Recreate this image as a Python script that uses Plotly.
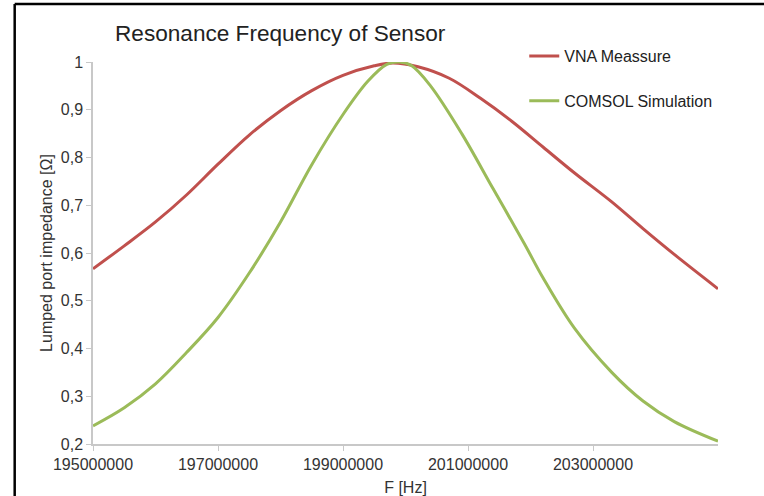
import plotly.graph_objects as go

# ---- data ----
vna_freq_mhz = [195.0, 195.5, 196.0, 196.5, 197.0, 197.5, 198.0, 198.5, 199.0, 199.5,
                199.8, 200.2, 200.7, 201.2, 201.7, 202.2, 202.7, 203.3, 203.8, 204.3, 205.0]
vna_values = [0.567, 0.615, 0.665, 0.722, 0.786, 0.847, 0.898, 0.940, 0.972, 0.992,
              0.998, 0.990, 0.966, 0.924, 0.876, 0.822, 0.768, 0.707, 0.651, 0.597, 0.525]

comsol_freq_mhz = [195.0, 195.5, 196.0, 196.5, 197.0, 197.5, 198.0, 198.5, 199.0, 199.4,
                   199.7, 199.9, 200.1, 200.4, 200.9, 201.4, 201.9, 202.2, 202.7, 203.3,
                   203.8, 204.3, 205.0]
comsol_values = [0.238, 0.276, 0.326, 0.392, 0.465, 0.558, 0.665, 0.785, 0.890, 0.960,
                 0.995, 1.000, 0.992, 0.950, 0.850, 0.735, 0.620, 0.548, 0.443, 0.350,
                 0.290, 0.247, 0.206]

x_tick_values = [195000000, 197000000, 199000000, 201000000, 203000000]
x_tick_labels = ["195000000", "197000000", "199000000", "201000000", "203000000"]
y_tick_values = [0.2, 0.3, 0.4, 0.5, 0.6, 0.7, 0.8, 0.9, 1.0]
y_tick_labels = ["0,2", "0,3", "0,4", "0,5", "0,6", "0,7", "0,8", "0,9", "1"]

vna_freq = [f * 1e6 for f in vna_freq_mhz]
comsol_freq = [f * 1e6 for f in comsol_freq_mhz]

FONT = "Liberation Sans, Arial, sans-serif"

fig = go.Figure()
fig.add_trace(go.Scatter(
    x=vna_freq, y=vna_values, mode="lines", name="VNA Meassure",
    legendgroup="a",
    line=dict(color="#C0504D", width=3, shape="spline", smoothing=1.0),
))
fig.add_trace(go.Scatter(
    x=comsol_freq, y=comsol_values, mode="lines", name="COMSOL Simulation",
    legendgroup="b",
    line=dict(color="#9BBB59", width=3, shape="spline", smoothing=1.0),
))

fig.update_layout(
    width=764, height=496,
    margin=dict(l=93, r=46, t=62, b=52, autoexpand=False),
    paper_bgcolor="white", plot_bgcolor="white",
    font=dict(family=FONT, size=16, color="#333333"),
    title=dict(text="Resonance Frequency of Sensor", x=115 / 764, xanchor="left",
               xref="container", y=1 - 33 / 496, yanchor="middle", yref="container",
               font=dict(family=FONT, size=22.6, color="#222222")),
    legend=dict(x=0.69, xanchor="left", y=1.06, yanchor="top",
                font=dict(family=FONT, size=16, color="#222222"),
                tracegroupgap=21, bgcolor="rgba(0,0,0,0)"),
    showlegend=True,
)

fig.update_xaxes(
    range=[195000000, 205000000],
    automargin=False,
    tickmode="array", tickvals=x_tick_values, ticktext=x_tick_labels,
    showgrid=False, zeroline=False,
    showline=True, linecolor="#C8C8C8", linewidth=1.5,
    ticks="outside", ticklen=5, tickcolor="#C8C8C8",
    tickfont=dict(size=16, color="#333333"),
    title=dict(text="F [Hz]", font=dict(size=16, color="#333333"), standoff=13),
)
fig.update_yaxes(
    range=[0.2, 1.0],
    automargin=False,
    tickmode="array", tickvals=y_tick_values, ticktext=y_tick_labels,
    showgrid=False, zeroline=False,
    showline=True, linecolor="#C8C8C8", linewidth=1.5,
    ticks="outside", ticklen=5, tickcolor="#C8C8C8",
    tickfont=dict(size=16, color="#333333"),
    title=dict(text="Lumped port impedance [Ω]", font=dict(size=16, color="#333333"), standoff=4),
)

# outer frame of the original (cropped) chart: only left and top edges are visible
fig.add_shape(type="line", xref="paper", yref="paper",
              x0=-0.1253, x1=-0.1253, y0=-0.3, y1=1.152,
              line=dict(color="black", width=2.5), layer="above")
fig.add_shape(type="line", xref="paper", yref="paper",
              x0=-0.1253, x1=1.3, y0=1.152, y1=1.152,
              line=dict(color="black", width=2.5), layer="above")

fig.write_html("out.html")
